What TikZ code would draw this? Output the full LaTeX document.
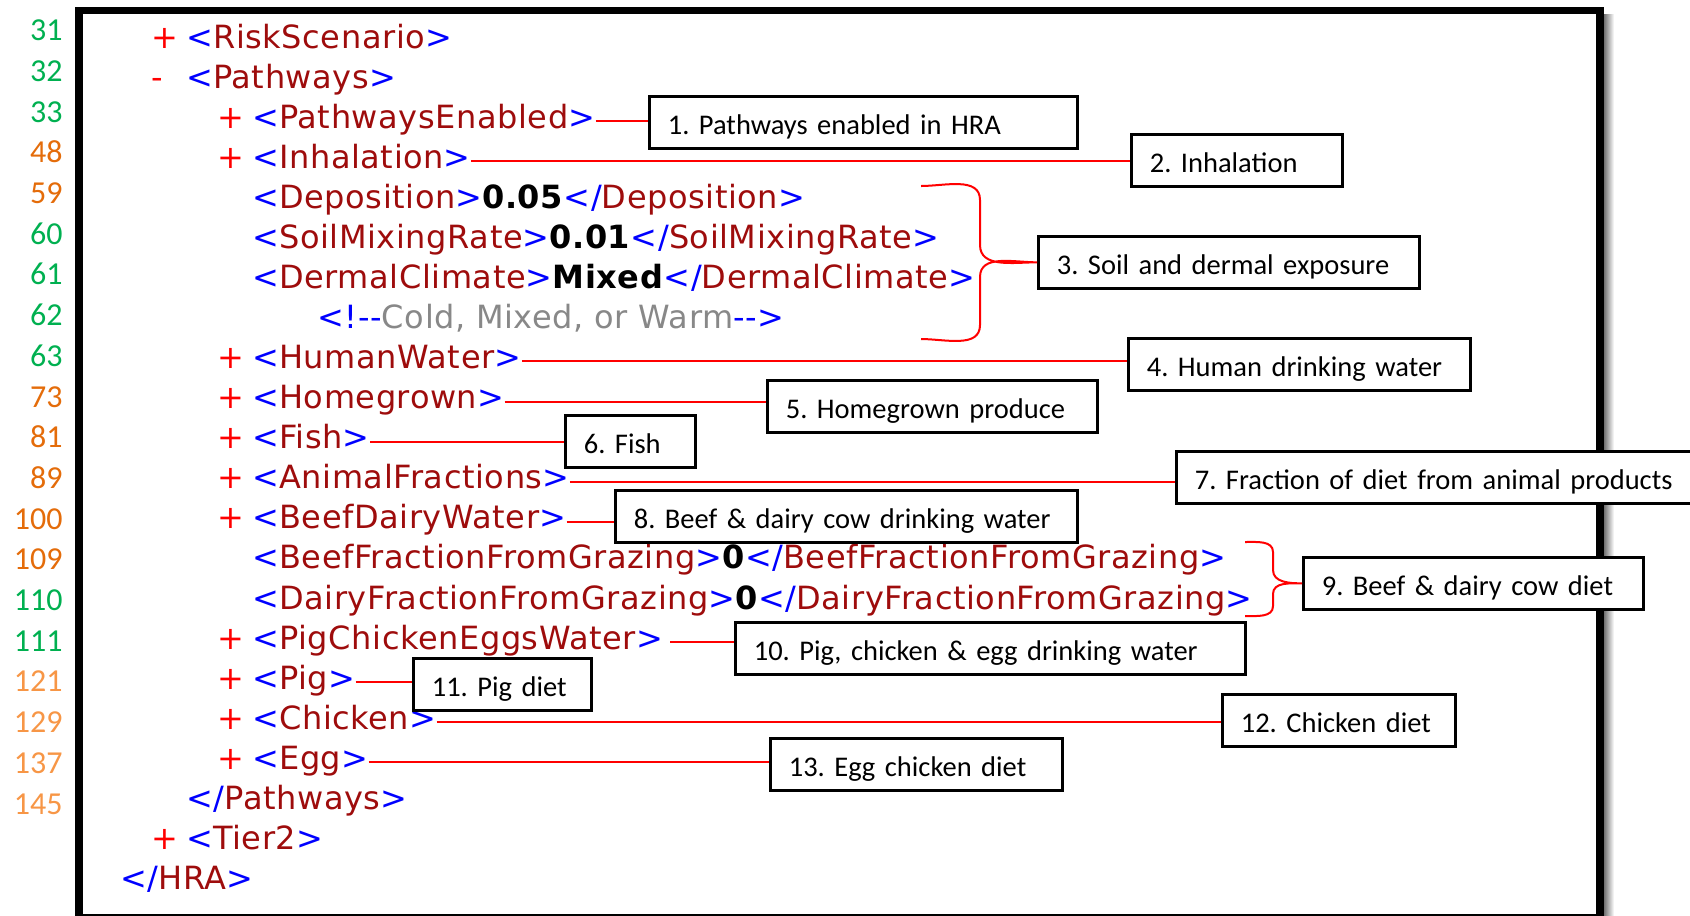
\documentclass[tikz,border=0pt]{standalone}
\usepackage{fontspec}
\setmainfont{Carlito}
\newfontfamily\codefont[LetterSpace=1.8]{DejaVu Sans}
\definecolor{tagred}{RGB}{158,12,12}
\definecolor{tagblue}{RGB}{0,0,255}
\definecolor{cmtgray}{RGB}{136,136,136}
\definecolor{numgreen}{RGB}{0,176,80}
\definecolor{numorange}{RGB}{228,108,10}
\definecolor{numlight}{RGB}{247,150,70}
\newcommand{\opentag}[1]{\textcolor{tagblue}{<}\textcolor{tagred}{#1}\textcolor{tagblue}{>}}
\newcommand{\closetag}[1]{\textcolor{tagblue}{</}\textcolor{tagred}{#1}\textcolor{tagblue}{>}}
\newcommand{\val}[1]{\textbf{#1}}
\begin{document}
\begin{tikzpicture}[x=0.4pt,y=-0.4pt,
	lnum/.style={font=\fontsize{12.8}{15}\selectfont, inner sep=0, anchor=base east},
	code/.style={font=\codefont\fontsize{12.8}{15}\selectfont, inner sep=0, anchor=base west},
	tag/.style={code, text height=5.8pt, text depth=0pt},
	sign/.style={code, text=red},
	note/.style={draw, line width=1.05pt, fill=white, anchor=north west, align=left,
		inner xsep=7.4pt, inner ysep=0pt, minimum height=20.8pt,
		text height=9.6pt, text depth=0pt, font=\fontsize{11.4}{14}\selectfont,
		execute at begin node=\frenchspacing\hbox\bgroup, execute at end node=\egroup},
	link/.style={red, line width=0.8pt}]
	\useasboundingbox (0,0) rectangle (1690,915);
	\clip (0,0) rectangle (1690,915);
	% frame of the screenshot
	\shade[left color=black!55, right color=white] (1604,14) rectangle (1614,918);
	\draw[line width=3.04pt] (78.8,10.5) rectangle (1600,918);
	% line numbers
	\foreach \n/\c [count=\i from 0] in {31/numgreen,32/numgreen,33/numgreen,48/numorange,
		59/numorange,60/numgreen,61/numgreen,62/numgreen,63/numgreen,73/numorange,81/numorange,
		89/numorange,100/numorange,109/numorange,110/numgreen,111/numgreen,121/numlight,
		129/numlight,137/numlight,145/numlight}
		\node[lnum, text=\c] (ln\n) at (63,{40.7+40.7*\i}) {\n};
	% xml lines
	\node[sign] (s1) at (151,48.3) {+};
	\node[tag] (tRisk) at (186,48.3) {\opentag{RiskScenario}};
	\node[sign] (s2) at (151,88.35) {-};
	\node[tag] (tPath) at (186,88.35) {\opentag{Pathways}};
	\node[sign] (s3) at (217,128.4) {+};
	\node[tag] (tEnabled) at (252,128.4) {\opentag{PathwaysEnabled}};
	\node[sign] (s4) at (217,168.45) {+};
	\node[tag] (tInhal) at (252,168.45) {\opentag{Inhalation}};
	\node[code] (rDep) at (252,208.5) {\opentag{Deposition}\val{0.05}\closetag{Deposition}};
	\node[code] (rSoil) at (252,248.55) {\opentag{SoilMixingRate}\val{0.01}\closetag{SoilMixingRate}};
	\node[code] (rDermal) at (252,288.6) {\opentag{DermalClimate}\val{Mixed}\closetag{DermalClimate}};
	\node[code] (rCmt) at (317,328.65) {\textcolor{tagblue}{<!-{}-}\textcolor{cmtgray}{Cold, Mixed, or Warm}\textcolor{tagblue}{-{}->}};
	\node[sign] (s5) at (217,368.7) {+};
	\node[tag] (tHumanW) at (252,368.7) {\opentag{HumanWater}};
	\node[sign] (s6) at (217,408.75) {+};
	\node[tag] (tHome) at (252,408.75) {\opentag{Homegrown}};
	\node[sign] (s7) at (217,448.8) {+};
	\node[tag] (tFish) at (252,448.8) {\opentag{Fish}};
	\node[sign] (s8) at (217,488.85) {+};
	\node[tag] (tAnimal) at (252,488.85) {\opentag{AnimalFractions}};
	\node[sign] (s9) at (217,528.9) {+};
	\node[tag] (tBeefW) at (252,528.9) {\opentag{BeefDairyWater}};
	\node[code] (rBeef) at (252,568.95) {\opentag{BeefFractionFromGrazing}\val{0}\closetag{BeefFractionFromGrazing}};
	\node[code] (rDairy) at (252,609) {\opentag{DairyFractionFromGrazing}\val{0}\closetag{DairyFractionFromGrazing}};
	\node[sign] (s10) at (217,649.05) {+};
	\node[tag] (tPigW) at (252,649.05) {\opentag{PigChickenEggsWater}};
	\node[sign] (s11) at (217,689.1) {+};
	\node[tag] (tPig) at (252,689.1) {\opentag{Pig}};
	\node[sign] (s12) at (217,729.15) {+};
	\node[tag] (tChicken) at (252,729.15) {\opentag{Chicken}};
	\node[sign] (s13) at (217,769.2) {+};
	\node[tag] (tEgg) at (252,769.2) {\opentag{Egg}};
	\node[code] (rPathEnd) at (186,809.25) {\closetag{Pathways}};
	\node[sign] (s14) at (151,849.3) {+};
	\node[tag] (tTier) at (186,849.3) {\opentag{Tier2}};
	\node[code] (rHRA) at (120,889.35) {\closetag{HRA}};
	% call-out boxes
	\node[note, text width=156.4pt] (bEnabled) at (648,95) {1. Pathways enabled in HRA};
	\node[note, text width=69.6pt] (bInhal) at (1130,133) {2. Inhalation};
	\node[note, text width=137.6pt] (bSoil) at (1037,235) {3. Soil and dermal exposure};
	\node[note, text width=122pt] (bHumanW) at (1127,337) {4. Human drinking water};
	\node[note, text width=117.2pt] (bHome) at (766,379) {5. Homegrown produce};
	\node[note, text width=37.2pt] (bFish) at (564,414) {6. Fish};
	\node[note, text width=195.2pt] (bAnimal) at (1175,450) {7. Fraction of diet from animal products};
	\node[note, text width=170pt] (bBeefW) at (614,489) {8. Beef \& dairy cow drinking water};
	\node[note, text width=121.2pt] (bDiet) at (1302,556) {9. Beef \& dairy cow diet};
	\node[note, text width=189.2pt] (bPigW) at (734,621) {10. Pig, chicken \& egg drinking water};
	\node[note, text width=56.4pt] (bPig) at (412,657) {11. Pig diet};
	\node[note, text width=78.4pt] (bChicken) at (1221,693) {12. Chicken diet};
	\node[note, text width=102pt] (bEgg) at (769,737) {13. Egg chicken diet};
	% red leaders
	\draw[link] (tEnabled.east) -- (tEnabled.east -| bEnabled.west);
	\draw[link] (tInhal.east) -- (tInhal.east -| bInhal.west);
	\draw[link] (tHumanW.east) -- (tHumanW.east -| bHumanW.west);
	\draw[link] (tHome.east) -- (tHome.east -| bHome.west);
	\draw[link] (tFish.east) -- (tFish.east -| bFish.west);
	\draw[link] (tAnimal.east) -- (tAnimal.east -| bAnimal.west);
	\draw[link] (tBeefW.east) -- (tBeefW.east -| bBeefW.west);
	\draw[link, shorten <=2.8pt] (tPigW.east) -- (tPigW.east -| bPigW.west);
	\draw[link] (tPig.east) -- (tPig.east -| bPig.west);
	\draw[link] (tChicken.east) -- (tChicken.east -| bChicken.west);
	\draw[link] (tEgg.east) -- (tEgg.east -| bEgg.west);
	% braces
	\draw[link] (921,186) to [out=0,in=90] (980,200) -- (980,245)
	to [out=-90,in=180] (bSoil.west)
	to [out=180,in=90] (980,277) -- (980,325)
	to [out=-90,in=0] (921,339);
	\draw[link] (1245,542) to [out=0,in=90] (1273,552) -- (1273,570)
	to [out=-90,in=180] (bDiet.west)
	to [out=180,in=90] (1273,594) -- (1273,606)
	to [out=-90,in=0] (1245,616);
\end{tikzpicture}
\end{document}
